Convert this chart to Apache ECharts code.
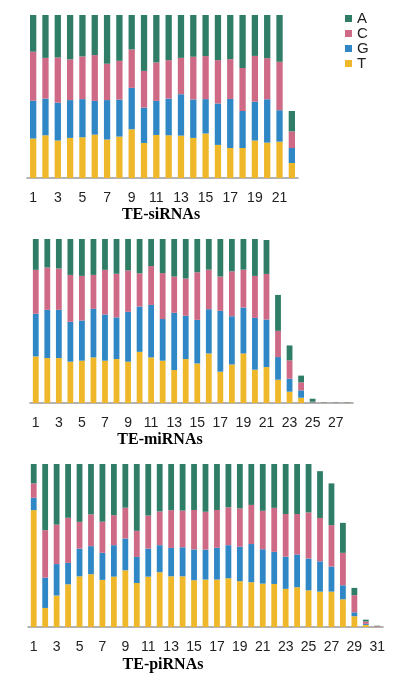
<!DOCTYPE html>
<html>
<head>
<meta charset="utf-8">
<script src="https://cdn.jsdelivr.net/npm/echarts@6/dist/echarts.min.js"></script>
<style>
html,body{margin:0;padding:0;background:#fff;}
#chart{width:395px;height:685px;}
</style>
</head>
<body>
<div id="chart"></div>
<script>
// Nucleotide composition per position (% of reads), stacked T (bottom), G, C, A (top)
var siPositions = ['1','2','3','4','5','6','7','8','9','10','11','12','13','14','15','16','17','18','19','20','21','22'];
var siT = [24.2,26.2,23.0,24.6,25.0,26.6,23.6,25.4,29.9,21.5,26.4,26.2,26.0,24.6,27.3,20.3,18.4,18.4,23.0,21.7,22.3,9.2];
var siG = [23.2,22.5,23.2,23.2,23.4,20.7,24.2,22.7,25.4,21.7,20.9,22.5,25.4,23.6,21.1,25.4,30.1,22.7,23.8,26.6,19.3,9.2];
var siC = [30.1,25.0,27.7,25.0,26.2,28.1,22.3,23.8,23.6,22.5,23.6,23.6,22.3,26.2,26.4,26.6,24.4,26.4,28.1,25.2,29.7,10.2];
var siA = [22.5,26.3,26.1,27.2,25.4,24.6,29.9,28.1,21.1,34.3,29.1,27.7,26.3,25.6,25.2,27.7,27.1,32.5,25.1,26.5,28.7,12.5];

var miPositions = ['1','2','3','4','5','6','7','8','9','10','11','12','13','14','15','16','17','18','19','20','21','22','23','24','25','26','27','28'];
var miT = [28.4,27.4,27.4,25.2,25.8,27.8,25.8,26.8,25.2,31.2,27.8,25.8,20.1,26.8,24.1,30.2,19.1,23.5,30.2,20.3,21.9,14.2,6.9,3.2,0.2,0.1,0.1,0.1];
var miG = [26.0,29.4,29.4,24.3,24.5,29.6,28.2,25.4,30.4,27.6,32.0,25.4,34.9,26.4,26.6,27.0,37.1,29.4,28.0,31.6,29.0,13.8,7.9,4.5,0.3,0.05,0.05,0.05];
var miC = [26.8,25.8,25.2,28.6,27.2,20.7,27.2,26.6,25.2,20.3,23.7,28.0,22.1,22.7,29.0,24.1,20.9,27.4,23.1,25.6,27.8,16.0,11.2,4.9,0.3,0.15,0.15,0.15];
var miA = [18.8,17.4,18.0,21.9,22.5,21.9,18.8,21.2,19.2,20.9,16.5,20.8,22.9,24.1,20.3,18.7,22.9,19.7,18.7,22.5,20.7,21.9,9.1,4.1,1.8,0.1,0.1,0.1];

var piPositions = ['1','2','3','4','5','6','7','8','9','10','11','12','13','14','15','16','17','18','19','20','21','22','23','24','25','26','27','28','29','30','31'];
var piT = [71.7,11.7,19.3,26.2,31.1,32.4,28.9,30.9,34.8,27.0,30.9,33.6,31.1,31.1,28.7,29.1,29.1,29.9,28.1,27.5,26.6,26.4,23.4,24.4,22.5,21.7,21.7,17.0,6.6,1.3,0.2];
var piG = [7.6,18.6,19.3,13.1,17.0,17.2,16.6,19.3,19.5,16.0,17.2,16.6,17.4,17.8,18.9,18.4,19.5,20.3,21.1,23.4,21.1,19.7,19.7,20.1,19.5,18.6,15.4,8.6,2.4,0.6,0.1];
var piC = [8.8,29.1,24.2,27.7,16.4,19.5,19.1,18.4,18.9,16.0,20.3,20.7,23.2,22.5,24.2,23.2,23.2,23.2,23.6,24.0,23.6,27.0,26.2,24.8,28.3,26.6,25.4,19.9,10.5,1.5,0.3];
var piA = [11.9,40.6,37.2,33.0,35.5,30.9,35.4,31.4,26.8,41.0,31.6,29.1,28.3,28.6,28.2,29.3,28.2,26.6,27.2,25.1,28.7,26.9,30.7,30.7,29.7,28.7,25.6,18.4,4.5,1.1,0.2];

var panelTitles = ['TE-siRNAs','TE-miRNAs','TE-piRNAs'];
var legendNames = ['A','C','G','T'];

var colors = {A:'#2f7d66', C:'#cf6a86', G:'#2f87c5', T:'#efb82b'};

var panels = [
  {cats: siPositions, T: siT, G: siG, C: siC, A: siA, grid:{left:27, right:97, top:15, height:163}, barWidth:6.3, titleX:161, titleY:215},
  {cats: miPositions, T: miT, G: miG, C: miC, A: miA, grid:{left:30, right:42, top:239, height:164}, barWidth:5.8, titleX:160, titleY:440},
  {cats: piPositions, T: piT, G: piG, C: piC, A: piA, grid:{left:28, right:12, top:464, height:163}, barWidth:5.8, titleX:163, titleY:665}
];

var grids = [], xAxes = [], yAxes = [], series = [], graphics = [];
panels.forEach(function(p, i){
  grids.push(p.grid);
  xAxes.push({
    type:'category', gridIndex:i, data:p.cats, boundaryGap:true,
    axisLine:{show:true, lineStyle:{color:'#9a9a9a', width:1.5}},
    axisTick:{show:false},
    axisLabel:{interval:1, margin:13, fontSize:14, color:'#222', fontFamily:'Liberation Sans, Arial, sans-serif'},
    splitLine:{show:false}
  });
  yAxes.push({type:'value', gridIndex:i, min:0, max:100, show:false, splitLine:{show:false}});
  ['T','G','C','A'].forEach(function(n){
    series.push({
      name:n, type:'bar', stack:'s'+i, xAxisIndex:i, yAxisIndex:i,
      data:p[n], barWidth:p.barWidth,
      itemStyle:{color:colors[n]},
      emphasis:{disabled:true}, animation:false
    });
  });
  graphics.push({
    type:'text', x:p.titleX, y:p.titleY,
    style:{text:panelTitles[i], fill:'#000', font:'bold 16px "Liberation Serif", "Times New Roman", serif', align:'center', verticalAlign:'middle'}
  });
});

var chart = echarts.init(document.getElementById('chart'), null, {renderer:'canvas'});
chart.setOption({
  animation:false,
  backgroundColor:'#fff',
  legend:{
    data:legendNames, orient:'vertical', left:345, top:11,
    itemWidth:7, itemHeight:7, itemGap:0,
    icon:'rect', padding:0,
    textStyle:{fontSize:15, lineHeight:14, color:'#222', fontFamily:'Liberation Sans, Arial, sans-serif'}
  },
  grid:grids, xAxis:xAxes, yAxis:yAxes, series:series, graphic:graphics
});
</script>
</body>
</html>
